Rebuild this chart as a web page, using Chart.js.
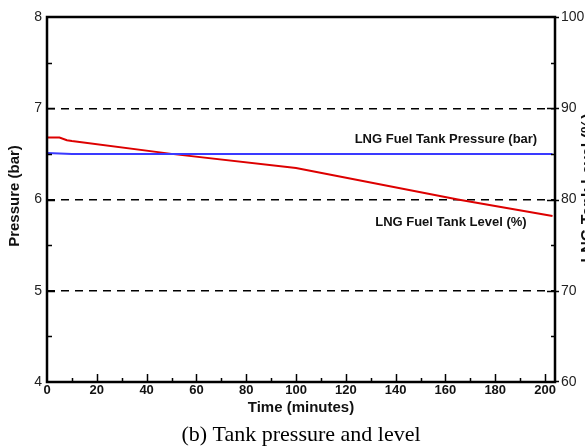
<!DOCTYPE html>
<html>
<head>
<meta charset="utf-8">
<script src="https://cdn.jsdelivr.net/npm/chart.js@4/dist/chart.umd.min.js"></script>
<style>
  html, body { margin: 0; padding: 0; background: #fff; }
  #wrap { width: 585px; height: 446px; position: relative; }
</style>
</head>
<body>
<div id="wrap"><canvas id="c" width="585" height="446"></canvas></div>
<script>
// ---- data ----
const timePressure = [0, 5, 10, 50, 100, 150, 203];
const pressureBar  = [6.51, 6.505, 6.5, 6.5, 6.5, 6.5, 6.5];
const timeLevel    = [0, 5, 8, 10, 50, 100, 165, 203];
const levelPct     = [86.8, 86.8, 86.5, 86.4, 85.0, 83.45, 80.0, 78.2];

const xTickValues      = [0, 20, 40, 60, 80, 100, 120, 140, 160, 180, 200];
const pressureTicks    = [4, 5, 6, 7, 8];
const levelTicks       = [60, 70, 80, 90, 100];
const dashedPressure   = [5, 6, 7];

const seriesNames = ['LNG Fuel Tank Pressure (bar)', 'LNG Fuel Tank Level (%)'];
const xTitle = 'Time (minutes)';
const yTitle = 'Pressure (bar)';
const y2Title = 'LNG Tank Level (%)';
const caption = '(b) Tank pressure and level';

const SANS = '"Liberation Sans", Arial, sans-serif';
const SERIF = '"Liberation Serif", "Times New Roman", serif';

const decor = {
  id: 'decor',
  afterDraw(chart) {
    const ctx = chart.ctx;
    const a = chart.chartArea;
    const xs = chart.scales.x, yl = chart.scales.y, yr = chart.scales.y2;
    ctx.save();
    ctx.strokeStyle = '#000';
    // ticks (inward)
    ctx.lineWidth = 1.5;
    ctx.beginPath();
    for (let v = 10; v <= 200; v += 10) {
      const px = Math.round(xs.getPixelForValue(v)) + 0.5;
      const len = (v % 20 === 0) ? 8 : 4;
      ctx.moveTo(px, a.bottom); ctx.lineTo(px, a.bottom - len);
    }
    for (let v = 4.5; v < 8; v += 0.5) {
      const py = Math.round(yl.getPixelForValue(v)) + 0.5;
      const len = (Math.abs(v - Math.round(v)) < 1e-6) ? 8 : 5;
      ctx.moveTo(a.left, py); ctx.lineTo(a.left + len, py);
    }
    for (let v = 65; v < 100; v += 5) {
      const py = Math.round(yr.getPixelForValue(v)) + 0.5;
      if (v % 10 === 0) {
        ctx.moveTo(a.right - 8, py); ctx.lineTo(a.right + 4, py);
      } else {
        ctx.moveTo(a.right, py); ctx.lineTo(a.right - 4, py);
      }
    }
    ctx.moveTo(a.right, a.top + 0.5); ctx.lineTo(a.right + 4, a.top + 0.5);
    ctx.moveTo(a.right, a.bottom - 0.5); ctx.lineTo(a.right + 4, a.bottom - 0.5);
    ctx.stroke();
    // frame
    ctx.lineWidth = 2.5;
    ctx.strokeRect(a.left, a.top, a.right - a.left, a.bottom - a.top);

    // series labels
    ctx.fillStyle = '#111';
    ctx.font = 'bold 13px ' + SANS;
    ctx.textAlign = 'center';
    ctx.textBaseline = 'middle';
    ctx.fillText(seriesNames[0], xs.getPixelForValue(160.2), yl.getPixelForValue(6.663));
    ctx.fillText(seriesNames[1], xs.getPixelForValue(162.2), yl.getPixelForValue(5.753));

    // axis titles
    ctx.font = 'bold 15px ' + SANS;
    ctx.textBaseline = 'alphabetic';
    ctx.fillText(xTitle, (a.left + a.right) / 2, 412);
    ctx.save();
    ctx.translate(19, 196);
    ctx.rotate(-Math.PI / 2);
    ctx.fillText(yTitle, 0, 0);
    ctx.restore();
    ctx.save();
    ctx.translate(593, 188);
    ctx.rotate(-Math.PI / 2);
    ctx.font = 'bold 16px ' + SANS;
    ctx.fillText(y2Title, 0, 0);
    ctx.restore();

    // caption
    ctx.font = '22px ' + SERIF;
    ctx.fillStyle = '#000';
    ctx.fillText(caption, 301, 441);
    ctx.restore();
  }
};

new Chart(document.getElementById('c'), {
  type: 'line',
  data: {
    datasets: [
      {
        label: seriesNames[0],
        data: timePressure.map((t, i) => ({ x: t, y: pressureBar[i] })),
        yAxisID: 'y',
        borderColor: '#3a3aff',
        borderWidth: 2,
        pointRadius: 0,
        tension: 0,
        fill: false
      },
      {
        label: seriesNames[1],
        data: timeLevel.map((t, i) => ({ x: t, y: levelPct[i] })),
        yAxisID: 'y2',
        borderColor: '#dd0000',
        borderWidth: 2,
        pointRadius: 0,
        tension: 0,
        fill: false
      }
    ]
  },
  options: {
    responsive: false,
    animation: false,
    events: [],
    layout: { padding: { top: 17, left: 0, right: 0, bottom: 0 } },
    plugins: { legend: { display: false }, tooltip: { enabled: false }, title: { display: false } },
    scales: {
      x: {
        type: 'linear',
        min: 0, max: 204,
        afterFit(s) { s.height = 64; },
        afterBuildTicks(s) { s.ticks = xTickValues.map(v => ({ value: v })); },
        ticks: {
          padding: 1,
          color: '#111',
          font: { family: SANS, size: 13, weight: 'bold' },
          maxRotation: 0,
          autoSkip: false
        },
        grid: { display: false, drawTicks: false },
        border: { display: false }
      },
      y: {
        type: 'linear',
        position: 'left',
        min: 4, max: 8,
        afterFit(s) { s.width = 47; },
        afterBuildTicks(s) { s.ticks = pressureTicks.map(v => ({ value: v })); },
        ticks: {
          padding: 5,
          color: '#222',
          font: { family: SANS, size: 14 }
        },
        grid: {
          drawTicks: false,
          lineWidth: 1.5,
          color: (c) => dashedPressure.includes(c.tick && c.tick.value) ? '#000' : 'rgba(0,0,0,0)'
        },
        border: { display: false, dash: [8, 6] }
      },
      y2: {
        type: 'linear',
        position: 'right',
        min: 60, max: 100,
        afterFit(s) { s.width = 30; },
        afterBuildTicks(s) { s.ticks = levelTicks.map(v => ({ value: v })); },
        ticks: {
          padding: 6,
          color: '#222',
          font: { family: SANS, size: 14 }
        },
        grid: { display: false, drawTicks: false },
        border: { display: false }
      }
    }
  },
  plugins: [decor]
});
</script>
</body>
</html>
